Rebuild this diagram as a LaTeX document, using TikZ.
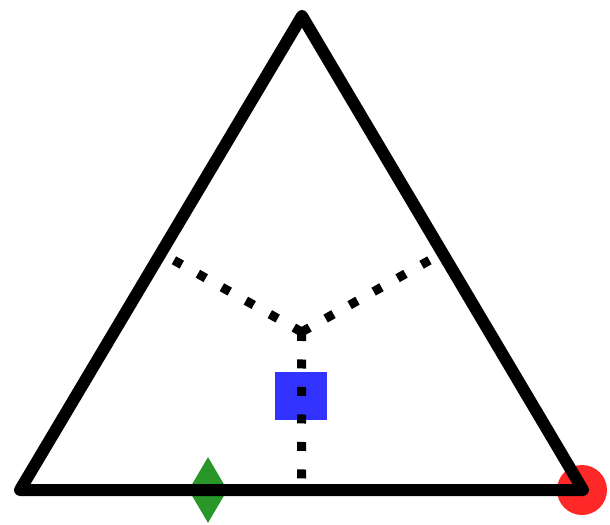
\documentclass[tikz,border=0pt]{standalone}
\usepackage{xcolor}
\definecolor{markblue}{RGB}{51,51,255}
\definecolor{markgreen}{RGB}{40,150,40}
\definecolor{markred}{RGB}{255,40,40}
\usepackage{tikz}
\usetikzlibrary{
  calc,
  shapes.geometric
}
\tikzset{
  sidelines/.style={draw, line width=0.24cm, line join=round, line cap=round},
  medline/.style={draw, line width=0.18cm, dash pattern=on 0.18cm off 0.37cm},
}

\begin{document}
\begin{tikzpicture}[
  sqmark/.style={rectangle, fill=markblue, inner sep=0pt,
    minimum width=1.04cm, minimum height=0.96cm},
  dmmark/.style={diamond, fill=markgreen, inner sep=0pt,
    minimum width=0.78cm, minimum height=1.32cm},
  cmark/.style={circle, fill=markred, inner sep=0pt, minimum size=1.0cm}
]
  \useasboundingbox (0,0) rectangle (12.2,-10.5);

  % Vertices
  \coordinate (apex) at (6.04,-0.32);
  \coordinate (bl) at (0.40,-9.80);
  \coordinate (br) at (11.66,-9.80);
  \coordinate (ctr) at ($1/3*(apex)+1/3*(bl)+1/3*(br)$);
  \coordinate (mleft) at ($(apex)!0.5!(bl)$);
  \coordinate (mright) at ($(apex)!0.5!(br)$);
  \coordinate (mbase) at ($(bl)!0.5!(br)$);

  % Markers
  \node[cmark] (redpt) at (11.64,-9.80) {};
  \node[dmmark] (greenpt) at (4.16,-9.80) {};
  \node[sqmark] (bluept) at (6.02,-7.92) {};

  % Triangle
  \draw[sidelines] (apex) -- (bl) -- (br) -- cycle;

  % Dotted lines from centre
  \draw[medline] (ctr) -- (mleft);
  \draw[medline] (ctr) -- (mright);
  \draw[medline] (ctr) -- (mbase);
\end{tikzpicture}
\end{document}
